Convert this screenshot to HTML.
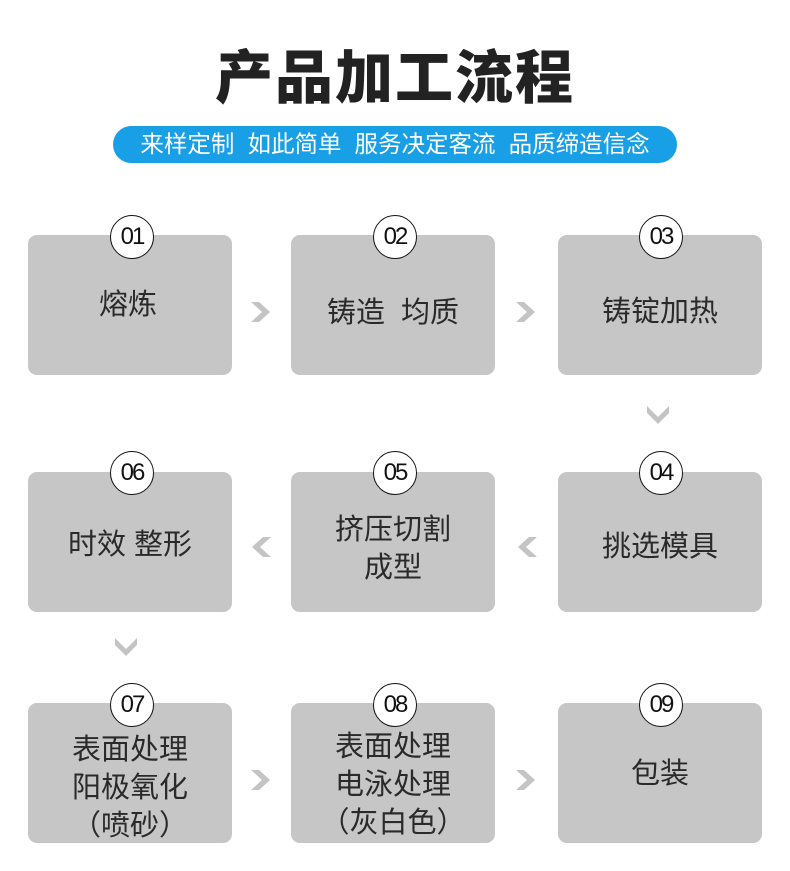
<!DOCTYPE html>
<html><head><meta charset="utf-8"><style>
body{margin:0;width:790px;height:871px;background:#fff;position:relative;overflow:hidden;font-family:"Liberation Sans","Noto Sans CJK SC",sans-serif;}
.title{position:absolute;left:0;width:790px;top:44px;text-align:center;font-size:58px;font-weight:900;color:#222;line-height:70px;letter-spacing:2px;}
.banner{position:absolute;left:113px;top:126px;width:564px;height:37px;border-radius:19px;background:#189fe6;color:#fff;font-size:23.5px;line-height:37px;text-align:center;white-space:nowrap;}
.box{position:absolute;width:204px;height:140px;background:#c6c6c6;border-radius:9px;}
.c{position:absolute;width:42px;height:42px;border:1px solid #111;border-radius:50%;background:#fff;font-size:24px;line-height:42px;text-align:center;color:#111;letter-spacing:-2px;font-family:"Liberation Sans Narrow","Liberation Sans",sans-serif;}
.t{position:absolute;width:204px;text-align:center;font-size:29px;color:#2a2a2a;line-height:38px;white-space:nowrap;}
svg{position:absolute;left:0;top:0}
</style></head><body>
<div class="title">产品加工流程</div>
<div class="banner">来样定制&nbsp;&nbsp;如此简单&nbsp;&nbsp;服务决定客流&nbsp;&nbsp;品质缔造信念</div>

<div class="box" style="left:28px;top:235px"></div>
<div class="box" style="left:291px;top:235px"></div>
<div class="box" style="left:558px;top:235px"></div>
<div class="box" style="left:28px;top:472px"></div>
<div class="box" style="left:291px;top:472px"></div>
<div class="box" style="left:558px;top:472px"></div>
<div class="box" style="left:28px;top:703px"></div>
<div class="box" style="left:291px;top:703px"></div>
<div class="box" style="left:558px;top:703px"></div>

<div class="c" style="left:110px;top:215px">01</div>
<div class="c" style="left:373px;top:215px">02</div>
<div class="c" style="left:639px;top:215px">03</div>
<div class="c" style="left:110px;top:451px">06</div>
<div class="c" style="left:373px;top:451px">05</div>
<div class="c" style="left:639px;top:451px">04</div>
<div class="c" style="left:110px;top:683px">07</div>
<div class="c" style="left:373px;top:683px">08</div>
<div class="c" style="left:639px;top:683px">09</div>

<div class="t" style="left:26px;top:286px">熔炼</div>
<div class="t" style="left:291px;top:294px">铸造&nbsp;&nbsp;均质</div>
<div class="t" style="left:558px;top:293px">铸锭加热</div>
<div class="t" style="left:558px;top:528px">挑选模具</div>
<div class="t" style="left:291px;top:511px">挤压切割<br>成型</div>
<div class="t" style="left:28px;top:526px">时效 整形</div>
<div class="t" style="left:28px;top:731px">表面处理<br>阳极氧化<br>（喷砂）</div>
<div class="t" style="left:291px;top:728px">表面处理<br>电泳处理<br>（灰白色）</div>
<div class="t" style="left:558px;top:755px">包装</div>

<svg width="790" height="871">
<g fill="#c4c4c4">
<polygon points="251,302 259,302 270,312 259,322 251,322 262,312"/>
<polygon points="516,302 524,302 535,312 524,322 516,322 527,312"/>
<polygon points="251,770 259,770 270,780 259,790 251,790 262,780"/>
<polygon points="516,770 524,770 535,780 524,790 516,790 527,780"/>
<polygon points="271,537 263,537 252,547 263,557 271,557 260,547"/>
<polygon points="537,537 529,537 518,547 529,557 537,557 526,547"/>
<polygon points="647,406 647,413 658,424 669,413 669,406 658,417"/>
<polygon points="115,638 115,645 126,656 137,645 137,638 126,649"/>
</g>
</svg>
</body></html>
